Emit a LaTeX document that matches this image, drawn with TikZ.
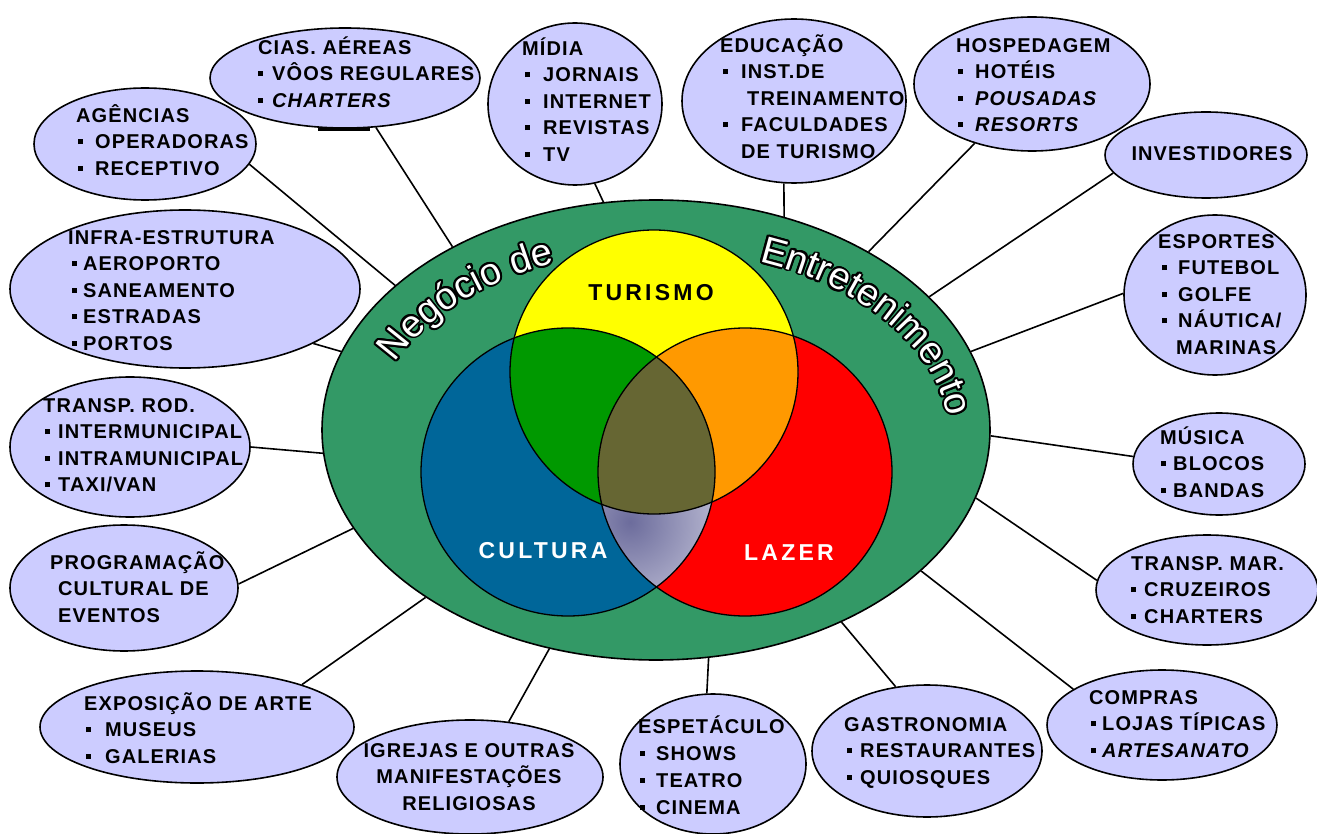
\documentclass[tikz,border=0pt]{standalone}
\usepackage{fontspec}
\setmainfont{Liberation Sans}
\newfontfamily\bubf{Liberation Sans}[LetterSpace=5.5]
\newfontfamily\venf{Liberation Sans}[LetterSpace=14]
\newfontfamily\negW{Liberation Sans}
\usetikzlibrary{shapes.geometric,decorations.text}
\definecolor{bubC}{HTML}{CCCCFF}
\definecolor{bigG}{HTML}{339966}
\definecolor{turC}{HTML}{FFFF00}
\definecolor{culC}{HTML}{006699}
\definecolor{lazC}{HTML}{FF0000}
\definecolor{tcC}{HTML}{009900}
\definecolor{tlC}{HTML}{FF9900}
\definecolor{allC}{HTML}{666633}
\definecolor{grD}{HTML}{6C6C9C}
\definecolor{grL}{HTML}{BCBCD4}
\newcommand\bu[1][8]{\rule[4.5pt]{5pt}{5pt}\hspace*{#1pt}}
\newcommand\st{\rule{0pt}{20pt}}
\begin{document}
\begin{tikzpicture}[x=1pt,y=1pt,
  bub/.style={ellipse, draw=black, line width=1.6pt, fill=bubC, inner sep=0pt},
  btxt/.style={font=\bubf\bfseries\fontsize{20}{26.5}\selectfont, align=left, inner sep=0pt, anchor=north west},
  conn/.style={line width=1.6pt},
  venn/.style={line width=1.3pt, draw=black},
  vtxt/.style={font=\venf\bfseries\fontsize{23}{23}\selectfont, inner sep=0pt}]
\useasboundingbox (0,0) rectangle (1317,-834);
\fill[white] (0,0) rectangle (1317,-834);

% central ellipse
\node[ellipse, draw=black, line width=1.6pt, fill=bigG, inner sep=0pt,
      minimum width=668pt, minimum height=460pt] (neg) at (656,-430) {};

% Venn
\def\Tur{(654,-372) ellipse [x radius=144, y radius=142]}
\def\Cul{(568,-472) ellipse [x radius=147, y radius=144]}
\def\Laz{(745,-472) ellipse [x radius=147, y radius=144]}
\fill[culC] \Cul;
\fill[lazC] \Laz;
\fill[turC] \Tur;
\begin{scope}
  \clip \Cul; \clip \Laz;
  \shade[inner color=grD, outer color=grL] (630,-522) circle (95);
\end{scope}
\begin{scope}
  \clip \Tur;
  \fill[tcC] \Cul;
  \fill[tlC] \Laz;
\end{scope}
\begin{scope}
  \clip \Cul; \clip \Laz;
  \fill[allC] \Tur;
\end{scope}
\draw[venn] \Cul;
\draw[venn] \Laz;
\draw[venn] \Tur;

\node[vtxt] (tur) at (651,-293) {TURISMO};
\node[vtxt, text=white] (cul) at (543,-551) {CULTURA};
\node[vtxt, text=white] (laz) at (789,-553) {LAZER};

% outlined curved title: dark copies around, white on top
\foreach \a in {0,22.5,...,337.5}{
\begin{scope}[shift={(\a:1.9)}]
\path[decorate, decoration={text along path, text align=left, text color=black,
   text={|\negW\fontsize{38}{38}\selectfont|Negócio de}}]
   (395.1,-362.7) arc[start angle=156, end angle=92, x radius=290, y radius=190];
\path[decorate, decoration={text along path, text align=left, text color=black,
   text={|\negW\fontsize{38}{38}\selectfont|Entretenimento}}]
   (759.2,-261.5) arc[start angle=70, end angle=-12, x radius=290, y radius=190];
\end{scope}
}
\path[decorate, decoration={text along path, text align=left, text color=white,
   text={|\negW\fontsize{38}{38}\selectfont|Negócio de}}]
   (395.1,-362.7) arc[start angle=156, end angle=92, x radius=290, y radius=190];
\path[decorate, decoration={text along path, text align=left, text color=white,
   text={|\negW\fontsize{38}{38}\selectfont|Entretenimento}}]
   (759.2,-261.5) arc[start angle=70, end angle=-12, x radius=290, y radius=190];

% bubbles
\node[bub, minimum width=270pt, minimum height=100pt] (cias) at (345,-78) {};
\draw[line width=3.5pt] (318,-129) -- (370,-129);
\node[bub, minimum width=222pt, minimum height=112pt] (ag) at (145,-144) {};
\node[bub, minimum width=174pt, minimum height=162pt] (midia) at (575,-104) {};
\node[bub, minimum width=224pt, minimum height=164pt] (edu) at (794,-101) {};
\node[bub, minimum width=236pt, minimum height=134pt] (hosp) at (1032,-84) {};
\node[bub, minimum width=202pt, minimum height=86pt] (inv) at (1206,-155) {};
\node[bub, minimum width=182pt, minimum height=160pt] (esp) at (1215,-295) {};
\node[bub, minimum width=172pt, minimum height=102pt] (mus) at (1219,-464) {};
\node[bub, minimum width=222pt, minimum height=110pt] (tmar) at (1207,-590) {};
\node[bub, minimum width=230pt, minimum height=110pt] (comp) at (1162,-725) {};
\node[bub, minimum width=230pt, minimum height=132pt] (gastr) at (927,-751) {};
\node[bub, minimum width=186pt, minimum height=140pt] (espet) at (713,-764) {};
\node[bub, minimum width=266pt, minimum height=114pt] (igr) at (470,-777) {};
\node[bub, minimum width=314pt, minimum height=112pt] (expo) at (197,-727) {};
\node[bub, minimum width=228pt, minimum height=126pt] (prog) at (124,-588) {};
\node[bub, minimum width=240pt, minimum height=140pt] (trod) at (130,-447) {};
\node[bub, minimum width=350pt, minimum height=158pt] (infra) at (185,-289) {};

% bubble texts
\node[btxt] (tcias) at (258,-34) {\st CIAS. AÉREAS\\\bu[9]VÔOS REGULARES\\\bu[9]\textit{CHARTERS}};
\node[btxt] (tag) at (76,-102) {\st AGÊNCIAS\\\hspace*{2pt}\bu[12]OPERADORAS\\\hspace*{2pt}\bu[12]RECEPTIVO};
\node[btxt] (tmidia) at (522,-35) {\st MÍDIA\\\hspace*{3pt}\bu[13]JORNAIS\\\hspace*{3pt}\bu[13]INTERNET\\\hspace*{3pt}\bu[13]REVISTAS\\\hspace*{3pt}\bu[13]TV};
\node[btxt] (tedu) at (720,-32) {\st EDUCAÇÃO\\\hspace*{3pt}\bu[13]INST.DE\\\hspace*{27pt}TREINAMENTO\\\hspace*{3pt}\bu[13]FACULDADES\\\hspace*{21pt}DE TURISMO};
\node[btxt] (thosp) at (956,-32) {\st HOSPEDAGEM\\\hspace*{2pt}\bu[12]HOTÉIS\\\hspace*{2pt}\bu[12]\textit{POUSADAS}\\\hspace*{2pt}\bu[12]\textit{RESORTS}};
\node[font=\bubf\bfseries\fontsize{20}{26.5}\selectfont, inner sep=0pt] (tinv) at (1212,-154) {INVESTIDORES};
\node[btxt] (tesp) at (1158,-228) {\st ESPORTES\\\hspace*{4pt}\bu[11]FUTEBOL\\\hspace*{4pt}\bu[11]GOLFE\\\hspace*{4pt}\bu[11]NÁUTICA/\\\hspace*{18pt}MARINAS};
\node[btxt] (tmus) at (1160,-424) {\st MÚSICA\\\hspace*{1pt}\bu[7]BLOCOS\\\hspace*{1pt}\bu[7]BANDAS};
\node[btxt] (ttmar) at (1131,-550) {\st TRANSP. MAR.\\\bu[8]CRUZEIROS\\\bu[8]CHARTERS};
\node[btxt] (tcomp) at (1089,-684) {\st COMPRAS\\\hspace*{2pt}\bu[6]LOJAS TÍPICAS\\\hspace*{2pt}\bu[6]\textit{ARTESANATO}};
\node[btxt] (tgastr) at (844,-711) {\st GASTRONOMIA\\\hspace*{3pt}\bu[8]RESTAURANTES\\\hspace*{3pt}\bu[8]QUIOSQUES};
\node[btxt, font=\bubf\bfseries\fontsize{20}{27}\selectfont] (tespet) at (638,-713) {\st ESPETÁCULO\\\hspace*{2pt}\bu[11]SHOWS\\\hspace*{2pt}\bu[11]TEATRO\\\hspace*{2pt}\bu[11]CINEMA};
\node[btxt, align=center, anchor=north] (tigr) at (469,-737) {\st IGREJAS E OUTRAS\\MANIFESTAÇÕES\\RELIGIOSAS};
\node[btxt] (texpo) at (84,-690) {\st EXPOSIÇÃO DE ARTE\\\hspace*{2pt}\bu[14]MUSEUS\\\hspace*{2pt}\bu[14]GALERIAS};
\node[btxt] (tprog) at (50,-549) {\st PROGRAMAÇÃO\\\hspace*{8pt}CULTURAL DE\\\hspace*{8pt}EVENTOS};
\node[btxt] (ttrod) at (43,-392) {\st TRANSP. ROD.\\\hspace*{2pt}\bu[8]INTERMUNICIPAL\\\hspace*{2pt}\bu[8]INTRAMUNICIPAL\\\hspace*{2pt}\bu[8]TAXI/VAN};
\node[btxt] (tinfra) at (68,-224) {\st INFRA-ESTRUTURA\\\hspace*{4pt}\bu[6]AEROPORTO\\\hspace*{4pt}\bu[6]SANEAMENTO\\\hspace*{4pt}\bu[6]ESTRADAS\\\hspace*{4pt}\bu[6]PORTOS};

% connectors
\draw[conn] (ag.-11) -- (neg.151.5);
\draw[conn] (cias.-58) -- (neg.138.3);
\draw[conn] (midia.-76) -- (neg.103.9);
\draw[conn] (edu.-97) -- (neg.59.4);
\draw[conn] (hosp.-134) -- (neg.40.1);
\draw[conn] (inv.191) -- (neg.26.4);
\draw[conn] (esp.179) -- (neg.14);
\draw[conn] (mus.175) -- (neg.-1.4);
\draw[conn] (tmar.175) -- (neg.-12.8);
\draw[conn] (comp.158) -- (neg.-28.8);
\draw[conn] (gastr.116) -- (neg.-46.6);
\draw[conn] (espet.95) -- (neg.-77.3);
\draw[conn] (igr.55) -- (neg.-116.6);
\draw[conn] (expo.22) -- (neg.-144);
\draw[conn] (prog.2.5) -- (neg.-162.8);
\draw[conn] (trod.0) -- (neg.-176.9);
\draw[conn] (infra.-23) -- (neg.166.9);
\end{tikzpicture}
\end{document}
